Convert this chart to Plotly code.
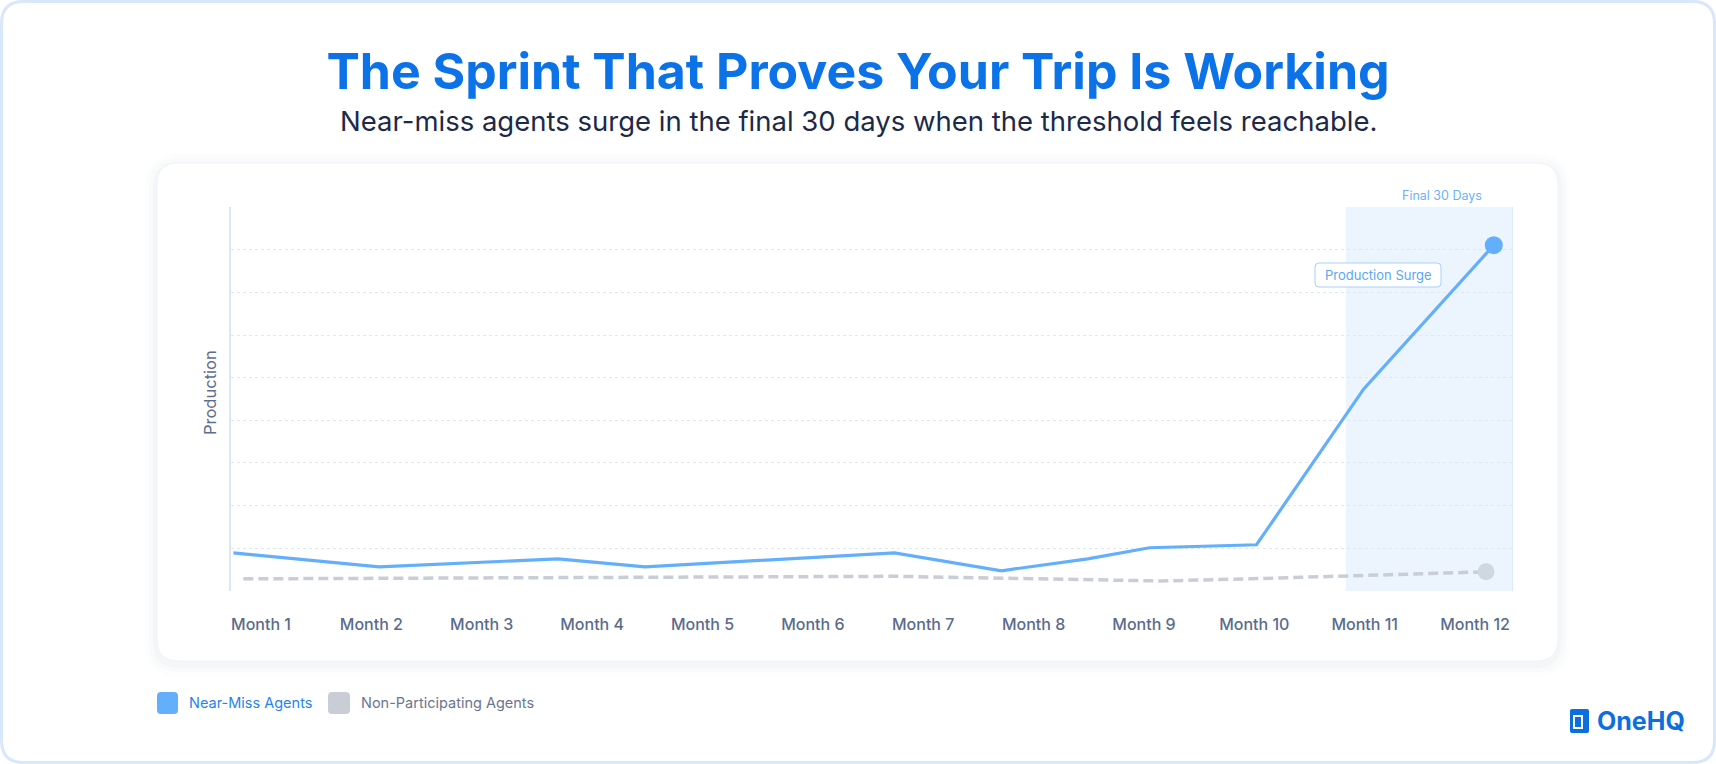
import plotly.graph_objects as go

# --- data ---
months = [f"Month {i}" for i in range(1, 13)]
month_pos = list(range(1, 13))

# near-miss agents: positions along the month axis and production values
near_miss_x = [0.75, 2.07, 3.69, 4.48, 6.74, 7.71, 8.49, 9.05, 10.02, 10.99, 12.17]
near_miss_y = [8.9, 5.6, 7.5, 5.6, 8.9, 4.7, 7.5, 10.1, 10.8, 47.3, 81.1]

# non-participating agents
non_part_x = [0.84, 6.75, 9.16, 9.96, 12.10]
non_part_y = [2.8, 3.4, 2.3, 2.8, 4.45]

final_window = [10.83, 12.344]  # "Final 30 Days" band on the month axis

# --- page geometry (pixels) ---
W, H = 1716, 764
L, R, T, B = 231, 203, 207, 173
PW, PH = W - L - R, H - T - B

BLUE = "#64affb"
GREY = "#c9cdd6"
FONT = "Inter, Lato, sans-serif"


def X(p):
    return (p - L) / PW


def Y(p):
    return (H - B - p) / PH


def rounded_rect(x0, y0, x1, y1, r):
    return (f"M {X(x0 + r)},{Y(y0)} L {X(x1 - r)},{Y(y0)} Q {X(x1)},{Y(y0)} {X(x1)},{Y(y0 + r)} "
            f"L {X(x1)},{Y(y1 - r)} Q {X(x1)},{Y(y1)} {X(x1 - r)},{Y(y1)} "
            f"L {X(x0 + r)},{Y(y1)} Q {X(x0)},{Y(y1)} {X(x0)},{Y(y1 - r)} "
            f"L {X(x0)},{Y(y0 + r)} Q {X(x0)},{Y(y0)} {X(x0 + r)},{Y(y0)} Z")


def label(text, x, y, size, color, xanchor="center", **kw):
    return dict(text=text, x=X(x), y=Y(y), xref="paper", yref="paper", showarrow=False,
                xanchor=xanchor, yanchor="middle", font=dict(size=size, color=color), **kw)


fig = go.Figure()

fig.add_trace(go.Scatter(
    x=non_part_x, y=non_part_y, mode="lines",
    line=dict(color=GREY, width=3.5, dash="10px,5px"),
    name="Non-Participating Agents", hoverinfo="skip"
))
fig.add_trace(go.Scatter(
    x=near_miss_x, y=near_miss_y, mode="lines",
    line=dict(color=BLUE, width=3.2),
    name="Near-Miss Agents", hoverinfo="skip"
))
fig.add_trace(go.Scatter(
    x=[non_part_x[-1]], y=[non_part_y[-1]], mode="markers",
    marker=dict(color="#cfd7e3", size=17), hoverinfo="skip", cliponaxis=False
))
fig.add_trace(go.Scatter(
    x=[near_miss_x[-1]], y=[near_miss_y[-1]], mode="markers",
    marker=dict(color=BLUE, size=18), hoverinfo="skip", cliponaxis=False
))

shapes = []
# outer frame
shapes.append(dict(type="path", xref="paper", yref="paper", layer="below",
                   path=rounded_rect(1.5, 1.5, W - 1.5, H - 1.5, 22),
                   line=dict(color="#d9e7fb", width=3), fillcolor="white"))
# card shadow + card
for grow, alpha in [(12, 0.010), (8, 0.014), (4, 0.02)]:
    shapes.append(dict(type="path", xref="paper", yref="paper", layer="below",
                       path=rounded_rect(157 - grow, 163 - grow + 3, 1558 + grow, 661 + grow + 3, 22 + grow),
                       line=dict(width=0), fillcolor=f"rgba(40,60,110,{alpha})"))
shapes.append(dict(type="path", xref="paper", yref="paper", layer="below",
                   path=rounded_rect(157, 163, 1558, 661, 22),
                   line=dict(color="#f1f3f7", width=1), fillcolor="white"))
# final 30 days band
shapes.append(dict(type="rect", xref="x", yref="paper", layer="below",
                   x0=final_window[0], x1=final_window[1], y0=0, y1=1,
                   fillcolor="#ecf4fd", line=dict(width=0)))
shapes.append(dict(type="line", xref="x", yref="paper", layer="below",
                   x0=final_window[1], x1=final_window[1], y0=0, y1=1,
                   line=dict(color="#dbe7f7", width=1.5)))
# "Production Surge" callout box
shapes.append(dict(type="path", xref="paper", yref="paper",
                   path=rounded_rect(1315, 263, 1441, 287, 4),
                   line=dict(color="#a9d0fa", width=1), fillcolor="white"))
# legend swatches
shapes.append(dict(type="path", xref="paper", yref="paper",
                   path=rounded_rect(157, 692, 178, 714, 4), line=dict(width=0), fillcolor=BLUE))
shapes.append(dict(type="path", xref="paper", yref="paper",
                   path=rounded_rect(328, 692, 350, 714, 4), line=dict(width=0), fillcolor="#c9cdd6"))
# logo mark
shapes.append(dict(type="path", xref="paper", yref="paper",
                   path=rounded_rect(1570, 709, 1589, 733, 2), line=dict(width=0), fillcolor="#0b6fe0"))
shapes.append(dict(type="rect", xref="paper", yref="paper",
                   x0=X(1574), x1=X(1582), y0=Y(728), y1=Y(716),
                   line=dict(color="white", width=2), fillcolor="rgba(0,0,0,0)"))

annotations = [
    label("Near-miss agents surge in the final 30 days when the threshold feels reachable.",
          858, 121, 27.5, "#1c2a48"),
    label("Production", 210, 393, 16.5, "#5e6e8f", textangle=-90),
    label("Final 30 Days", 1442, 195, 12.5, "#6cb2f8"),
    label("Production Surge", 1378, 275, 13, "#5ba6f5"),
    label("Near-Miss Agents", 187, 703, 14.5, "#2684f0", xanchor="left"),
    label("Non-Participating Agents", 359, 703, 14.5, "#6b7591", xanchor="left"),
    label("<b>OneHQ</b>", 1595, 721, 25, "#0b6fe0", xanchor="left"),
]

fig.update_layout(
    width=W, height=H,
    margin=dict(l=L, r=R, t=T, b=B),
    paper_bgcolor="white", plot_bgcolor="rgba(0,0,0,0)",
    font=dict(family=FONT),
    title=dict(text="<b>The Sprint That Proves Your Trip Is Working</b>",
               x=0.5, xanchor="center", y=1 - 71 / H, yanchor="middle", yref="container",
               font=dict(size=50, color="#0b72e7")),
    showlegend=False,
    shapes=shapes,
    annotations=annotations,
    xaxis=dict(range=[0.728, 12.344], tickmode="array", tickvals=month_pos, ticktext=months,
               showgrid=False, zeroline=False, showline=False, ticks="",
               ticklabelstandoff=22, tickfont=dict(size=16, color="#5a6b8c", weight=500)),
    yaxis=dict(range=[-0.05, 90.05], dtick=10, showticklabels=False, ticks="",
               showgrid=True, gridcolor="#e0e7f4", gridwidth=1, griddash="dot",
               zeroline=False, showline=True, linecolor="#dce6f6", linewidth=2),
)

fig.write_html("out.html", config={"displayModeBar": False},
               post_script="document.body.style.margin='0';document.body.style.overflow='hidden';")
